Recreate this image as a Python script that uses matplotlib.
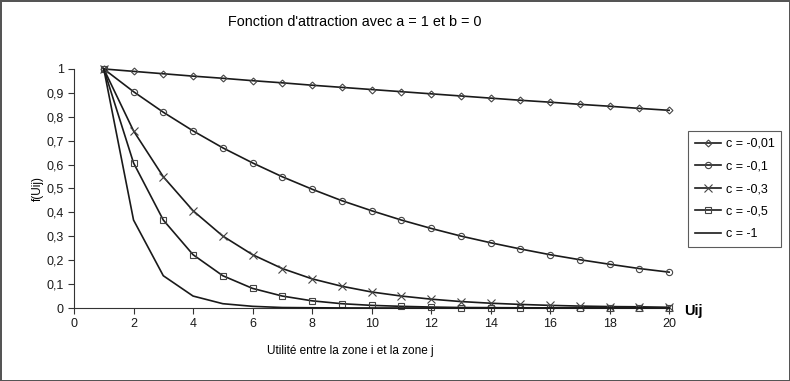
import matplotlib
matplotlib.use("Agg")
import matplotlib.pyplot as plt
from matplotlib.ticker import FuncFormatter

plt.rcParams['font.family'] = ['Liberation Sans', 'DejaVu Sans']

x = list(range(1, 21))
c001 = [1, 0.990, 0.980, 0.970, 0.961, 0.951, 0.942, 0.932, 0.923, 0.914,
        0.905, 0.896, 0.887, 0.878, 0.869, 0.861, 0.852, 0.844, 0.835, 0.827]
c01 = [1, 0.905, 0.819, 0.741, 0.670, 0.607, 0.549, 0.497, 0.449, 0.407,
       0.368, 0.333, 0.301, 0.273, 0.247, 0.223, 0.202, 0.183, 0.165, 0.150]
c03 = [1, 0.741, 0.549, 0.407, 0.301, 0.223, 0.165, 0.122, 0.091, 0.067,
       0.050, 0.037, 0.027, 0.020, 0.015, 0.011, 0.008, 0.006, 0.005, 0.003]
c05 = [1, 0.607, 0.368, 0.223, 0.135, 0.082, 0.050, 0.030, 0.018, 0.011,
       0.007, 0.004, 0.002, 0.0015, 0.0009, 0.0006, 0.0003, 0.0002, 0.0001, 0.0001]
c1 = [1, 0.368, 0.135, 0.050, 0.018, 0.007, 0.002, 0.001, 0.0003, 0.0001,
      0, 0, 0, 0, 0, 0, 0, 0, 0, 0]
labels = ["c = -0,01", "c = -0,1", "c = -0,3", "c = -0,5", "c = -1"]
series = [c001, c01, c03, c05, c1]
markers = ["D", "o", "x", "s", None]
msizes = [3.5, 4.5, 5.5, 4.5, 0]

fig = plt.figure(figsize=(7.9, 3.81), dpi=100, edgecolor="#555555", linewidth=2)
ax = fig.add_axes([0.0937, 0.1916, 0.7533, 0.6274])

for y, lab, m, ms in zip(series, labels, markers, msizes):
    ax.plot(x, y, color="#1a1a1a", lw=1.2, marker=m, markersize=ms,
            markerfacecolor="none", markeredgecolor="#444444", markeredgewidth=0.8,
            label=lab, clip_on=False, zorder=3)

ax.set_xlim(0, 20)
ax.set_ylim(0, 1)
ax.set_xticks(range(0, 21, 2))
ax.set_yticks([i / 10 for i in range(11)])
ax.yaxis.set_major_formatter(FuncFormatter(lambda v, p: ("%g" % round(v, 1)).replace(".", ",")))
for s in ["top", "right"]:
    ax.spines[s].set_visible(False)
for s in ["left", "bottom"]:
    ax.spines[s].set_color("#333333")
ax.tick_params(direction="out", length=4, color="#333333", labelsize=9, colors="#1a1a1a")

fig.text(0.449, 0.942, "Fonction d'attraction avec a = 1 et b = 0", ha="center", va="center", fontsize=10.4)
fig.text(0.048, 0.505, "f(Uij)", rotation=90, ha="center", va="center", fontsize=8.5)
fig.text(0.866, 0.185, "Uij", ha="left", va="center", fontsize=10.5, fontweight="bold")
fig.text(0.443, 0.078, "Utilité entre la zone i et la zone j", ha="center", va="center", fontsize=8.5)

leg = fig.legend(loc="upper left", bbox_to_anchor=(0.871, 0.656), borderaxespad=0, fontsize=9,
                 frameon=True, fancybox=False, edgecolor="#333333",
                 handlelength=2.1, labelspacing=0.85, borderpad=0.55, handletextpad=0.35)
leg.get_frame().set_linewidth(0.8)

fig.savefig("out.png", dpi=100, edgecolor=fig.get_edgecolor())
